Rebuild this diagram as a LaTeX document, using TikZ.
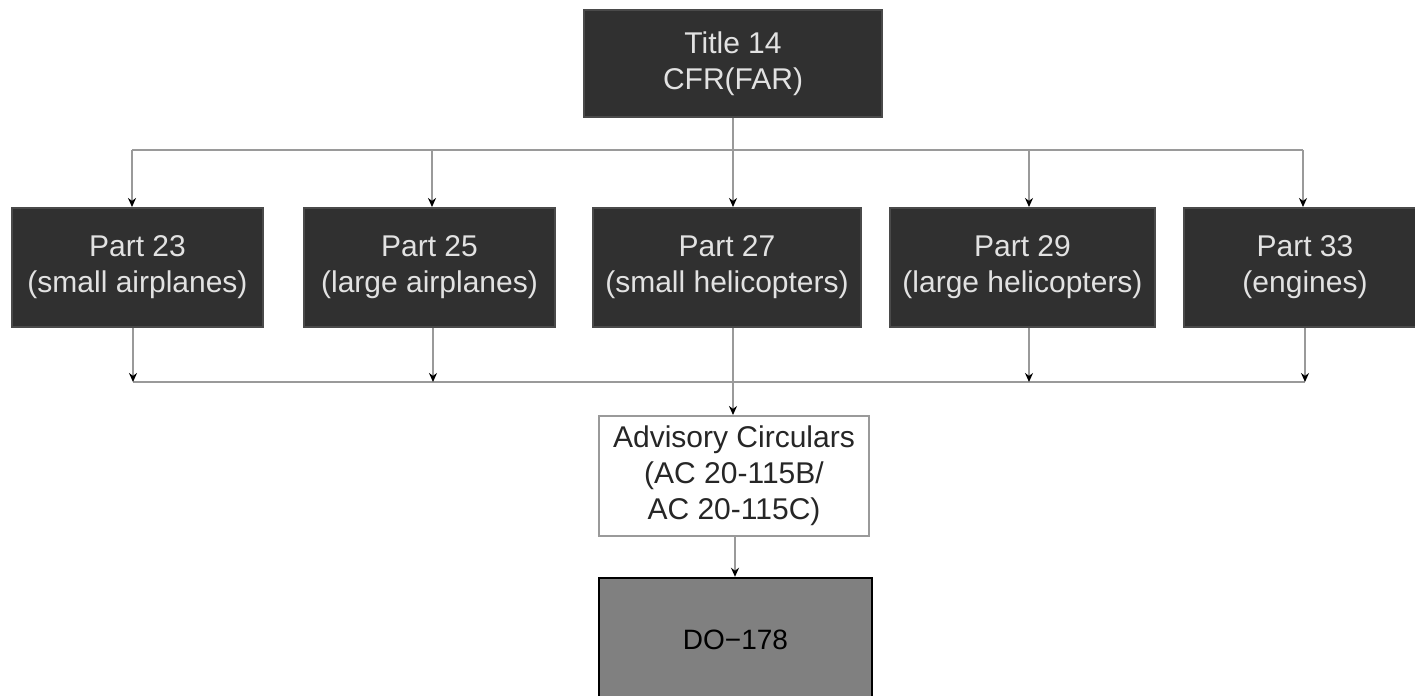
\documentclass[tikz,border=0pt]{standalone}
\usepackage{fontspec}
\setmainfont{Liberation Sans}
\usetikzlibrary{arrows.meta}
\definecolor{boxdark}{HTML}{303030}
\definecolor{boxedge}{HTML}{4A4A4A}
\definecolor{boxtext}{HTML}{E2E2E2}
\definecolor{wire}{HTML}{9A9A9A}
\definecolor{dofill}{HTML}{808080}
\tikzset{
  darkbox/.style={rectangle, fill=boxdark, draw=boxedge, line width=1pt,
    text=boxtext, align=center, inner sep=0pt,
    font=\fontsize{15}{18}\selectfont},
  acbox/.style={rectangle, fill=white, draw=wire, line width=1pt,
    text=black!85, align=center, inner sep=0pt,
    minimum width=135pt, minimum height=60pt,
    font=\fontsize{15}{18}\selectfont},
  dobox/.style={rectangle, fill=dofill, draw=black, line width=1.2pt,
    text=black, inner sep=0pt, minimum width=136.5pt, minimum height=62pt,
    font=\fontsize{14}{17}\selectfont},
  wireline/.style={draw=wire, line width=0.8pt},
  wirearrow/.style={wireline, -{Stealth[length=4.5pt,width=4pt,color=black]}}
}
\begin{document}
\begin{tikzpicture}[x=0.5pt,y=-0.5pt]
\useasboundingbox (0,0) rectangle (1415,696);

% top of the hierarchy
\node[darkbox, minimum width=149pt, minimum height=53.5pt] (title) at (733,63.5)
  {Title 14\\CFR(FAR)};

% regulation parts
\node[darkbox, minimum width=125.5pt, minimum height=59.5pt] (p23) at (137.5,267.5)
  {Part 23\\(small airplanes)};
\node[darkbox, minimum width=125.5pt, minimum height=59.5pt] (p25) at (429.5,267.5)
  {Part 25\\(large airplanes)};
\node[darkbox, minimum width=134pt, minimum height=59.5pt] (p27) at (727,267.5)
  {Part 27\\(small helicopters)};
\node[darkbox, minimum width=132.5pt, minimum height=59.5pt] (p29) at (1022.5,267.5)
  {Part 29\\(large helicopters)};
\node[darkbox, minimum width=121pt, minimum height=59.5pt] (p33) at (1305,267.5)
  {Part 33\\(engines)};

% guidance
\node[acbox] (ac) at (734,476)
  {Advisory Circulars\\(AC 20-115B/\\AC 20-115C)};
\node[dobox] (do) at (735.5,640) {DO−178};

% upper distribution bus
\coordinate (ta) at (132,150);
\coordinate (tb) at (432,150);
\coordinate (tc) at (733,150);
\coordinate (td) at (1029,150);
\coordinate (te) at (1303,150);
\draw[wireline] (ta) -- (te);
\draw[wireline] (title.south -| tc) -- (tc);
\draw[wirearrow] (ta) -- (ta |- p23.north);
\draw[wirearrow] (tb) -- (tb |- p25.north);
\draw[wirearrow] (tc) -- (tc |- p27.north);
\draw[wirearrow] (td) -- (td |- p29.north);
\draw[wirearrow] (te) -- (te |- p33.north);

% lower collection bus
\coordinate (ba) at (133,382);
\coordinate (bb) at (433,382);
\coordinate (bc) at (733,382);
\coordinate (bd) at (1029,382);
\coordinate (be) at (1305,382);
\draw[wireline] (ba) -- (be);
\draw[wirearrow] (p23.south -| ba) -- (ba);
\draw[wirearrow] (p25.south -| bb) -- (bb);
\draw[wirearrow] (p29.south -| bd) -- (bd);
\draw[wirearrow] (p33.south -| be) -- (be);
\draw[wirearrow] (p27.south -| bc) -- (bc |- ac.north);

% advisory circulars to DO-178
\coordinate (dc) at (735,536);
\draw[wirearrow] (ac.south -| dc) -- (dc |- do.north);
\end{tikzpicture}
\end{document}
